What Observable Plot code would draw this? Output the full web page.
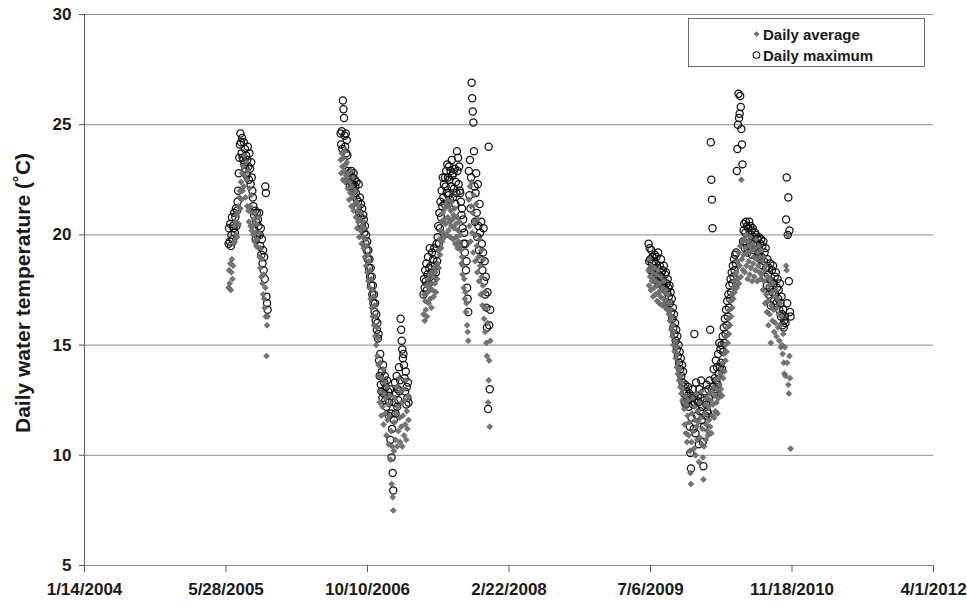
<!DOCTYPE html>
<html><head><meta charset="utf-8">
<script src="https://cdn.jsdelivr.net/npm/d3@7"></script>
<script src="https://cdn.jsdelivr.net/npm/@observablehq/plot@0.6"></script>
<style>
html,body{margin:0;padding:0;background:#fff;}
#chart{width:967px;height:604px;}
</style></head><body><div id="chart"></div>
<script>
// Logger segments: first day of each record and spacing (days) between the values
const segmentStarts = ["2005-06-06", "2006-07-07", "2007-04-26", "2009-06-29"];
const segmentStepDays = [2, 2, 2, 2];

// 2005 record
const avgA = [17.6,18.4,17.8,18.7,17.5,18.3,18.9,18.0,18.6,
  19.6,20.4,19.7,20.6,20.0,20.9,19.9,21.0,
  21.3,20.5,21.7,22.0,21.2,22.4,21.6,22.8,22.0,
  23.1,22.2,23.6,22.7,21.7,23.3,22.5,21.3,22.9,21.1,20.6,22.1,21.3,20.4,21.8,20.2,21.0,20.4,20.0,
  20.7,19.7,21.0,20.1,19.5,20.5,19.8,20.8,
  19.4,20.1,19.0,18.5,19.4,18.1,18.9,17.8,17.3,18.2,17.1,16.7,17.6,16.3,14.5,15.9,16.3];
const maxA = [19.6,20.3,19.7,20.5,19.5,20.0,20.8,19.8,20.4,
  20.3,21.0,20.1,20.8,21.2,20.4,21.1,21.5,
  22.0,22.8,23.5,24.1,24.6,24.2,23.7,24.4,23.5,
  23.4,24.2,23.2,23.9,23.0,23.6,22.7,23.4,24.0,23.1,22.5,23.7,23.0,22.3,23.3,22.6,22.0,21.7,21.3,
  20.9,20.2,21.1,19.8,20.6,21.0,20.0,20.7,
  20.4,21.0,20.0,19.5,20.3,19.1,19.8,18.7,19.3,18.4,19.0,18.0,22.2,21.9,17.2,16.9,16.6];

// 2006-2007 record
const avgB = [23.4,22.8,23.7,23.1,22.5,23.5,22.9,23.8,22.4,23.2,22.7,23.3,22.6,
  22.1,22.8,21.6,22.4,21.9,22.9,21.3,22.2,21.7,22.6,21.1,21.9,21.4,22.0,
  20.8,21.5,20.3,21.1,20.6,21.3,19.9,20.7,20.2,21.0,19.6,20.4,19.9,20.6,
  19.4,20.3,19.0,19.8,18.6,19.5,18.3,19.1,17.9,18.8,17.6,18.4,17.1,18.0,16.7,17.5,16.3,17.2,15.9,16.8,
  15.4,16.3,15.0,15.8,14.5,15.3,14.1,
  13.6,12.4,14.2,12.9,11.8,13.5,12.2,13.9,11.4,12.8,13.3,11.9,12.6,10.9,13.1,11.6,12.3,10.5,11.8,12.7,
  9.8,11.1,8.7,10.4,8.1,7.5,
  10.2,11.5,12.6,10.7,11.9,13.1,10.4,12.2,11.1,13.5,11.7,10.6,12.9,11.3,12.4,10.4,11.8,13.0,10.9,12.5,
  11.4,13.4,10.7,12.0,11.2,12.7,11.6];
const maxB = [24.6,24.1,24.7,23.9,26.1,25.7,25.3,24.5,24.0,24.6,23.7,24.3,23.6,
  22.9,22.5,22.8,22.2,22.7,22.4,22.9,22.1,22.6,22.3,22.8,22.0,22.5,22.2,
  21.9,22.4,21.6,21.2,21.5,22.3,21.0,21.7,20.8,21.4,20.5,21.2,20.3,20.9,
  20.7,20.1,20.4,19.6,20.0,19.3,19.7,18.9,19.3,18.5,18.9,18.1,18.5,17.7,18.1,17.3,17.7,16.9,17.3,16.5,
  16.9,16.1,16.4,15.7,16.0,15.3,15.5,
  14.3,13.6,14.6,13.2,12.9,13.8,12.6,14.1,12.8,13.3,13.6,12.5,13.1,12.2,13.4,12.7,12.9,11.8,12.4,13.0,
  10.7,11.9,9.9,11.2,9.2,8.4,
  11.6,12.4,13.3,11.9,12.8,13.6,12.2,13.0,12.5,14.0,12.9,13.4,16.2,15.7,15.2,14.8,14.4,14.6,14.1,13.5,
  12.9,13.8,12.3,13.1,12.6,13.3,12.4];

// 2007 record
const avgC = [16.4,17.3,16.1,17.0,16.6,17.7,16.3,17.4,18.0,16.9,17.6,18.2,17.1,17.8,16.7,18.3,17.5,18.1,17.2,18.5,
  17.8,18.3,17.4,18.6,18.0,
  18.7,19.3,18.5,19.8,19.1,20.2,19.4,20.6,19.7,21.0,20.1,20.7,19.9,21.2,
  20.5,21.4,20.0,21.6,20.8,20.2,21.3,20.6,19.9,21.1,20.4,21.5,20.7,19.8,20.9,20.3,21.2,19.6,20.5,19.9,
  20.8,19.4,20.2,19.7,20.6,19.5,20.0,
  19.3,18.7,19.0,18.2,18.6,17.6,18.0,17.1,17.4,16.5,16.9,15.9,15.6,15.2,
  21.6,20.4,22.2,19.7,21.3,22.4,20.1,21.0,19.2,21.8,20.6,18.8,20.0,21.4,19.5,18.3,20.7,19.0,17.9,19.8,
  18.6,17.3,19.3,18.1,16.8,17.7,18.9,16.2,17.4,15.6,16.7,15.1,14.5,16.0,12.4,13.4,14.3,11.3,15.2];
const maxC = [17.3,18.0,17.6,18.4,17.9,18.7,17.5,18.2,19.0,17.8,18.5,19.4,18.1,18.6,17.9,19.2,18.3,18.9,18.0,19.4,
  18.6,19.1,18.3,19.6,18.8,
  19.9,20.4,19.6,21.0,20.3,21.5,20.8,22.0,21.3,22.6,21.7,22.3,21.4,22.6,
  22.2,22.9,21.9,23.2,22.6,21.8,23.1,22.5,21.6,22.9,22.2,23.4,22.7,21.7,22.8,22.1,23.0,21.4,22.4,21.9,
  23.8,22.9,23.5,22.3,23.1,22.0,21.9,
  21.5,20.9,21.2,20.3,20.7,19.6,20.1,19.2,19.6,18.4,18.8,17.6,17.1,16.5,
  22.9,21.8,23.4,21.2,22.6,26.9,26.2,25.6,25.1,23.8,22.2,20.6,21.9,22.8,21.0,19.9,22.3,20.4,19.3,21.4,
  20.1,18.9,20.6,19.6,18.4,19.2,20.3,17.9,18.8,17.3,18.1,16.7,15.8,17.4,12.1,24.0,15.9,13.0,16.6];

// 2009-2010 record
const avgD = [18.4,17.7,18.9,18.1,17.5,18.6,17.9,18.3,17.2,18.0,17.6,18.5,17.3,17.9,18.2,17.0,17.7,18.4,17.4,16.9,
  17.8,17.2,18.1,17.5,16.8,17.6,17.1,17.9,16.9,17.4,16.7,17.5,17.0,16.6,17.3,16.9,
  16.4,16.9,16.1,16.6,15.7,16.3,15.4,15.9,15.0,15.6,14.7,15.2,14.4,14.9,14.0,14.6,13.7,14.2,13.4,13.9,
  13.1,13.6,12.8,13.3,12.5,13.0,12.4,
  12.1,11.4,12.7,11.0,12.3,10.6,11.8,12.5,10.9,11.5,10.2,9.2,8.7,10.6,11.9,12.6,11.1,10.3,12.2,11.6,
  10.0,12.8,11.3,10.7,12.0,11.5,9.7,12.4,10.8,11.7,12.9,10.5,11.2,9.9,8.9,10.4,11.9,12.3,10.7,11.4,
  12.6,11.1,
  10.9,12.2,11.6,12.8,11.3,12.5,11.0,12.9,11.8,12.3,13.1,11.7,12.7,12.0,13.4,12.4,13.0,11.9,13.5,12.6,
  13.2,12.8,13.7,
  13.0,13.9,12.7,14.2,13.5,14.6,13.8,15.0,14.3,15.4,14.7,15.8,15.1,16.2,15.5,16.6,15.9,17.0,16.3,17.3,
  16.7,17.6,17.1,17.9,17.4,18.2,17.7,
  18.3,17.6,18.8,18.0,19.2,17.8,18.6,19.5,18.1,22.5,18.9,19.7,18.4,19.1,
  19.8,18.3,19.4,20.0,18.6,19.2,18.0,19.7,18.8,19.5,18.2,19.9,18.5,19.3,17.9,19.6,18.7,19.0,18.1,19.4,
  18.4,19.8,18.9,17.9,19.2,18.6,19.5,18.3,19.0,18.0,
  19.3,18.2,18.8,17.5,19.0,17.9,18.4,16.9,18.6,17.3,16.5,18.1,17.0,15.9,17.7,16.4,18.0,15.1,16.8,17.4,
  16.1,17.8,16.6,15.6,17.2,16.0,17.5,15.4,16.7,17.1,15.8,16.4,15.2,16.9,15.9,14.9,16.3,15.0,14.6,15.5,
  14.2,13.7,
  14.9,13.6,18.6,18.4,14.2,20.0,13.2,12.8,14.5,13.5,10.3];
const maxD = [19.6,18.8,19.4,18.9,18.4,19.3,18.7,19.0,18.2,18.8,18.5,19.1,18.3,18.7,19.0,17.9,18.5,19.2,18.2,17.8,
  18.6,18.1,18.9,18.3,17.7,18.4,17.9,18.6,17.6,18.2,17.5,18.3,17.8,17.4,18.0,17.6,
  17.2,17.7,16.9,17.4,16.5,17.1,16.2,16.7,15.8,16.4,15.5,16.0,15.2,15.7,14.8,15.4,14.5,15.0,14.2,14.7,
  13.9,14.4,13.6,14.1,13.3,13.8,13.1,
  12.8,12.4,13.2,12.3,12.9,12.5,12.7,13.1,12.2,12.8,11.3,10.1,9.4,11.7,12.6,13.0,12.3,11.2,15.5,12.4,
  11.0,13.3,12.5,11.8,12.7,12.4,10.5,13.0,12.0,12.6,13.4,11.6,12.2,10.6,9.5,11.3,12.5,12.9,11.8,12.3,
  13.2,12.0,
  11.9,13.0,12.6,13.4,15.7,24.2,22.5,21.6,20.3,13.1,13.9,12.8,13.5,13.0,14.3,13.4,14.0,13.2,14.6,13.7,
  15.1,14.0,14.8,
  14.2,15.0,13.9,15.4,14.7,15.8,15.1,16.2,15.5,16.6,15.9,17.0,16.3,17.3,16.7,17.7,17.1,18.0,17.4,18.3,
  17.8,18.6,18.1,18.9,18.4,19.1,18.7,
  19.2,22.9,23.9,25.0,26.4,25.3,25.5,26.3,25.8,24.8,24.1,23.2,19.7,20.2,
  20.5,19.4,20.1,20.6,19.6,20.4,19.2,20.3,19.8,20.6,19.5,20.4,19.7,20.2,19.1,20.3,19.8,19.9,19.3,20.1,
  19.6,20.0,19.6,19.0,19.8,19.4,19.9,19.2,19.6,18.9,
  19.8,19.0,19.5,18.6,19.7,18.8,19.2,18.1,19.4,18.5,17.7,18.9,18.2,17.3,18.5,17.6,18.7,16.8,17.9,18.4,
  17.4,18.6,17.8,17.0,18.1,17.3,18.3,16.9,17.6,18.0,17.1,17.5,16.6,17.8,16.9,16.3,17.2,16.4,15.9,16.6,
  15.8,16.1,
  16.3,16.0,20.7,22.6,16.9,20.0,21.7,17.9,20.2,16.5,16.3];

const xTickLabels = ["1/14/2004","5/28/2005","10/10/2006","2/22/2008","7/6/2009","11/18/2010","4/1/2012"];
const yTicks = [5, 10, 15, 20, 25, 30];
const seriesNames = ["Daily average", "Daily maximum"];
const yTitle = "Daily water temperature (˚C)";

const avgSets = [avgA, avgB, avgC, avgD];
const maxSets = [maxA, maxB, maxC, maxD];
const DAY = 86400000;
const rows = [];
segmentStarts.forEach((s, k) => {
  const t0 = Date.parse(s + "T00:00:00Z");
  avgSets[k].forEach((v, i) => {
    rows.push({date: new Date(t0 + i * segmentStepDays[k] * DAY), avg: v, max: maxSets[k][i]});
  });
});
const parseMDY = s => { const [m, d, y] = s.split("/").map(Number); return new Date(Date.UTC(y, m - 1, d)); };
const xTicks = xTickLabels.map(parseMDY);
const fmt = d => `${d.getUTCMonth() + 1}/${d.getUTCDate()}/${d.getUTCFullYear()}`;

const FONT = "'Liberation Sans', Arial, Helvetica, sans-serif";
const chart = Plot.plot({
  width: 967, height: 604,
  marginLeft: 84, marginRight: 34, marginTop: 14, marginBottom: 39,
  style: {fontFamily: FONT, fontSize: "17px", fontWeight: "bold", color: "#1a1a1a", background: "#fff", overflow: "visible"},
  x: {type: "utc", domain: [xTicks[0], xTicks[xTicks.length - 1]]},
  y: {domain: [5, 30]},
  marks: [
    Plot.ruleY(yTicks, {stroke: "#8a8a8a", strokeWidth: 1}),
    Plot.ruleX([xTicks[0]], {stroke: "#5c5c5c", strokeWidth: 1}),
    Plot.axisX({ticks: xTicks, tickFormat: fmt, tickSize: 7, tickPadding: 10, label: null, stroke: "#5c5c5c", fill: "#1a1a1a", fontSize: 17, fontWeight: "bold"}),
    Plot.axisY({ticks: yTicks, tickSize: 5, tickPadding: 8, label: null, stroke: "#5c5c5c", fill: "#1a1a1a", fontSize: 17, fontWeight: "bold"}),
    Plot.dot(rows, {x: "date", y: "max", r: 3.6, stroke: "#111", strokeWidth: 1.25, fill: "none"}),
    Plot.dot(rows, {x: "date", y: "avg", symbol: "diamond2", r: 2.7, fill: "#747474", stroke: "#505050", strokeWidth: 0.5})
  ]
});
document.getElementById("chart").appendChild(chart);

const svg = d3.select(chart);
svg.append("text")
  .attr("transform", "translate(22,293) rotate(-90)")
  .attr("text-anchor", "middle").attr("dominant-baseline", "central")
  .style("font-family", FONT).style("font-size", "21px").style("font-weight", "bold").attr("fill", "#1a1a1a")
  .text(yTitle);

const lg = svg.append("g");
lg.append("rect").attr("x", 688.5).attr("y", 18.5).attr("width", 236).attr("height", 48)
  .attr("fill", "#fff").attr("stroke", "#6a6a6a").attr("stroke-width", 1);
lg.append("path").attr("d", d3.symbol(d3.symbolDiamond2, 16)()).attr("transform", "translate(756.5,34)")
  .attr("fill", "#747474").attr("stroke", "#505050").attr("stroke-width", 0.5);
lg.append("circle").attr("cx", 756.5).attr("cy", 55).attr("r", 3.3).attr("fill", "none").attr("stroke", "#111").attr("stroke-width", 1.1);
seriesNames.forEach((n, i) => {
  lg.append("text").attr("x", 763).attr("y", 34 + i * 21).attr("dominant-baseline", "central")
    .attr("text-anchor", "start")
    .style("font-family", FONT).style("font-size", "15px").style("font-weight", "bold").attr("fill", "#1a1a1a").text(n);
});
</script></body></html>
